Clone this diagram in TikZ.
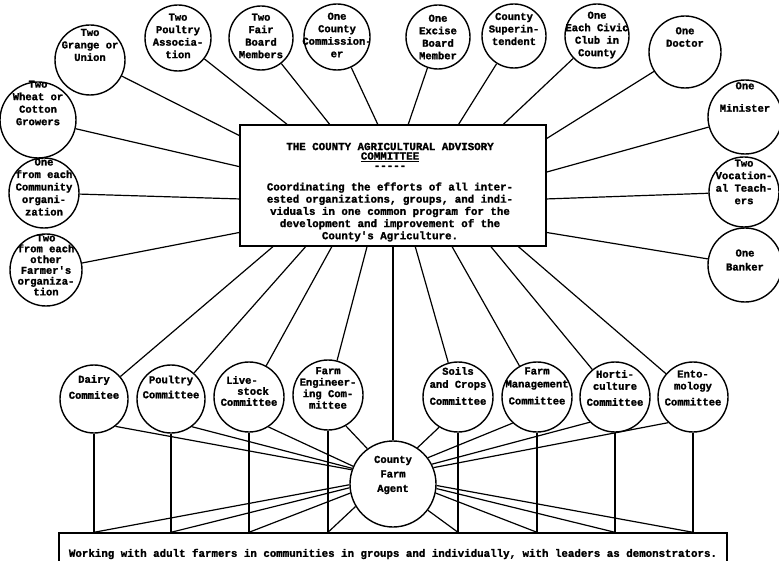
\documentclass[tikz,border=0pt]{standalone}
\usepackage{fontspec}
\setmonofont{Liberation Mono}[BoldFeatures={FakeBold=1.6}]
\tikzset{
  circ/.style={draw, circle, line width=1.4pt, inner sep=0pt},
  ctext/.style={font=\ttfamily\bfseries\fontsize{10.5}{12.5}\selectfont, align=center, inner sep=0pt},
  link/.style={line width=1.2pt},
  tbox/.style={draw, rectangle, line width=1.4pt, inner sep=0pt},
  btext/.style={font=\ttfamily\bfseries\fontsize{10.8}{12.2}\selectfont, align=center, inner sep=0pt},
}
\newcommand\cnode[6]{\node[circ, minimum size=#4pt, label={[ctext,#5]center:{#6}}] (#1) at (#2,#3) {};}
\begin{document}
\begin{tikzpicture}[x=1pt,y=-1pt]
\useasboundingbox (0,0) rectangle (779,561);
% central box
\node[tbox, minimum width=306pt, minimum height=121pt] (cab) at (393,185.5) {};
\node[btext, font=\ttfamily\bfseries\fontsize{10.8}{9.5}\selectfont] (ttl) at (390,156) {THE COUNTY AGRICULTURAL ADVISORY\\\underline{COMMITTEE}\\-----};
\node[btext] (bdy) at (390,212) {Coordinating the efforts of all inter-\\ested organizations, groups, and indi-\\viduals in one common program for the\\development and improvement of the\\County's Agriculture.};
% outer circles
\cnode{gr}{90}{60}{70}{yshift=15pt}{Two\\Grange or\\Union}
\cnode{pa}{178}{38}{66}{yshift=2pt}{Two\\Poultry\\Associa-\\tion}
\cnode{fb}{261}{38}{64}{yshift=2pt}{Two\\Fair\\Board\\Members}
\cnode{cc}{337}{37}{66}{yshift=2pt}{One\\County\\Commission-\\er}
\cnode{eb}{438}{37}{64}{yshift=0pt}{One\\Excise\\Board\\Member}
\cnode{cs}{514}{36}{64}{yshift=7pt}{County\\Superin-\\tendent}
\cnode{cv}{597}{36}{64}{yshift=1pt}{One\\Each Civic\\Club in\\County}
\cnode{dr}{685}{52}{72}{yshift=15pt}{One\\Doctor}
\cnode{mn}{745}{117}{74}{yshift=20pt}{One\\[10pt]Minister}
\cnode{wc}{38}{120}{76}{yshift=17pt}{Two\\Wheat or\\Cotton\\Growers}
\cnode{co}{44}{193}{70}{yshift=6pt}{One\\from each\\Community\\organi-\\zation}
\cnode{fo}{46}{270}{72}{yshift=5pt,font=\ttfamily\bfseries\fontsize{10.5}{10.8}\selectfont}{Two\\from each\\other\\Farmer's\\organiza-\\tion}
\cnode{vt}{744}{192}{70}{yshift=10pt}{Two\\Vocation-\\al Teach-\\ers}
\cnode{bk}{745}{265}{74}{yshift=5pt,font=\ttfamily\bfseries\fontsize{10.5}{14}\selectfont}{One\\Banker}
% committees
\cnode{dc}{94}{399}{68}{yshift=12pt,font=\ttfamily\bfseries\fontsize{10.5}{16}\selectfont}{Dairy\\Commitee}
\cnode{pc}{171}{399}{68}{yshift=12pt,font=\ttfamily\bfseries\fontsize{10.5}{15}\selectfont}{Poultry\\Committee}
\cnode{lc}{249}{397}{70}{yshift=6pt,font=\ttfamily\bfseries\fontsize{10.5}{11}\selectfont}{Live-\hspace*{14pt}\\\hspace*{8pt}stock\\Committee}
\cnode{ec}{328}{395}{70}{yshift=7pt,font=\ttfamily\bfseries\fontsize{10.5}{11.5}\selectfont}{Farm\\Engineer-\\ing Com-\\mittee}
\cnode{sc}{458}{397}{70}{yshift=11pt,font=\ttfamily\bfseries\fontsize{10.5}{13}\selectfont}{Soils\\and Crops\\[4pt]Committee}
\cnode{mc}{537}{397}{70}{yshift=11pt,font=\ttfamily\bfseries\fontsize{10.5}{13}\selectfont}{Farm\\Management\\[4pt]Committee}
\cnode{hc}{615}{397}{70}{yshift=9pt,font=\ttfamily\bfseries\fontsize{10.5}{12}\selectfont}{Horti-\\culture\\[4pt]Committee}
\cnode{tc}{693}{397}{70}{yshift=9pt,font=\ttfamily\bfseries\fontsize{10.5}{12}\selectfont}{Ento-\\mology\\[4pt]Committee}
% county farm agent
\cnode{agent}{393}{484}{86}{yshift=9pt,font=\ttfamily\bfseries\fontsize{10.5}{14.5}\selectfont}{County\\Farm\\Agent}
% bottom box
\node[tbox, minimum width=668pt, minimum height=42pt, btext] (work) at (393,554) {Working with adult farmers in communities in groups and individually, with leaders as demonstrators.};
% members to central box
\draw[link] (gr) -- (cab.162.4);
\draw[link] (wc) -- (cab.173.5);
\draw[link] (co) -- (cab.185.4);
\draw[link] (fo) -- (cab.197.9);
\draw[link] (pa) -- (cab.150.7);
\draw[link] (fb) -- (cab.136.2);
\draw[link] (cc) -- (cab.104.8);
\draw[link] (eb) -- (cab.76.1);
\draw[link] (cs) -- (cab.43.4);
\draw[link] (cv) -- (cab.29);
\draw[link] (dr) -- (cab.17.6);
\draw[link] (mn) -- (cab.5.8);
\draw[link] (vt) -- (cab.-5.4);
\draw[link] (bk) -- (cab.-17.3);
% central box to committees
\draw[link] (dc) -- (cab.-153.6);
\draw[link] (pc) -- (cab.-145.5);
\draw[link] (lc) -- (cab.-135.7);
\draw[link] (ec) -- (cab.-113.3);
\draw[link] (cab.south) -- (agent);
\draw[link] (sc) -- (cab.-70);
\draw[link] (mc) -- (cab.-46.2);
\draw[link] (hc) -- (cab.-32.8);
\draw[link] (tc) -- (cab.-26);
% committees to agent
\draw[link] (dc.-52) -- (agent.161);
\draw[link] (pc.-53) -- (agent.159);
\draw[link] (lc.-57) -- (agent.156);
\draw[link] (ec.-60) -- (agent.126);
\draw[link] (sc.-122) -- (agent.56);
\draw[link] (mc.-133) -- (agent.37);
\draw[link] (hc.-135) -- (agent.27);
\draw[link] (tc.-134) -- (agent.22);
% committees down to work box
\foreach \c in {dc,pc,lc,ec,sc,mc,hc,tc} {\draw[link] (\c) -- (\c |- work.north);}
% agent to work box
\draw[link] (agent.181) -- (dc |- work.north);
\draw[link] (agent.185) -- (pc |- work.north);
\draw[link] (agent.192) -- (lc |- work.north);
\draw[link] (agent.211) -- (ec |- work.north);
\draw[link] (agent.-37) -- (sc |- work.north);
\draw[link] (agent.-12) -- (mc |- work.north);
\draw[link] (agent.-6) -- (hc |- work.north);
\draw[link] (agent.-2) -- (tc |- work.north);
\end{tikzpicture}
\end{document}
